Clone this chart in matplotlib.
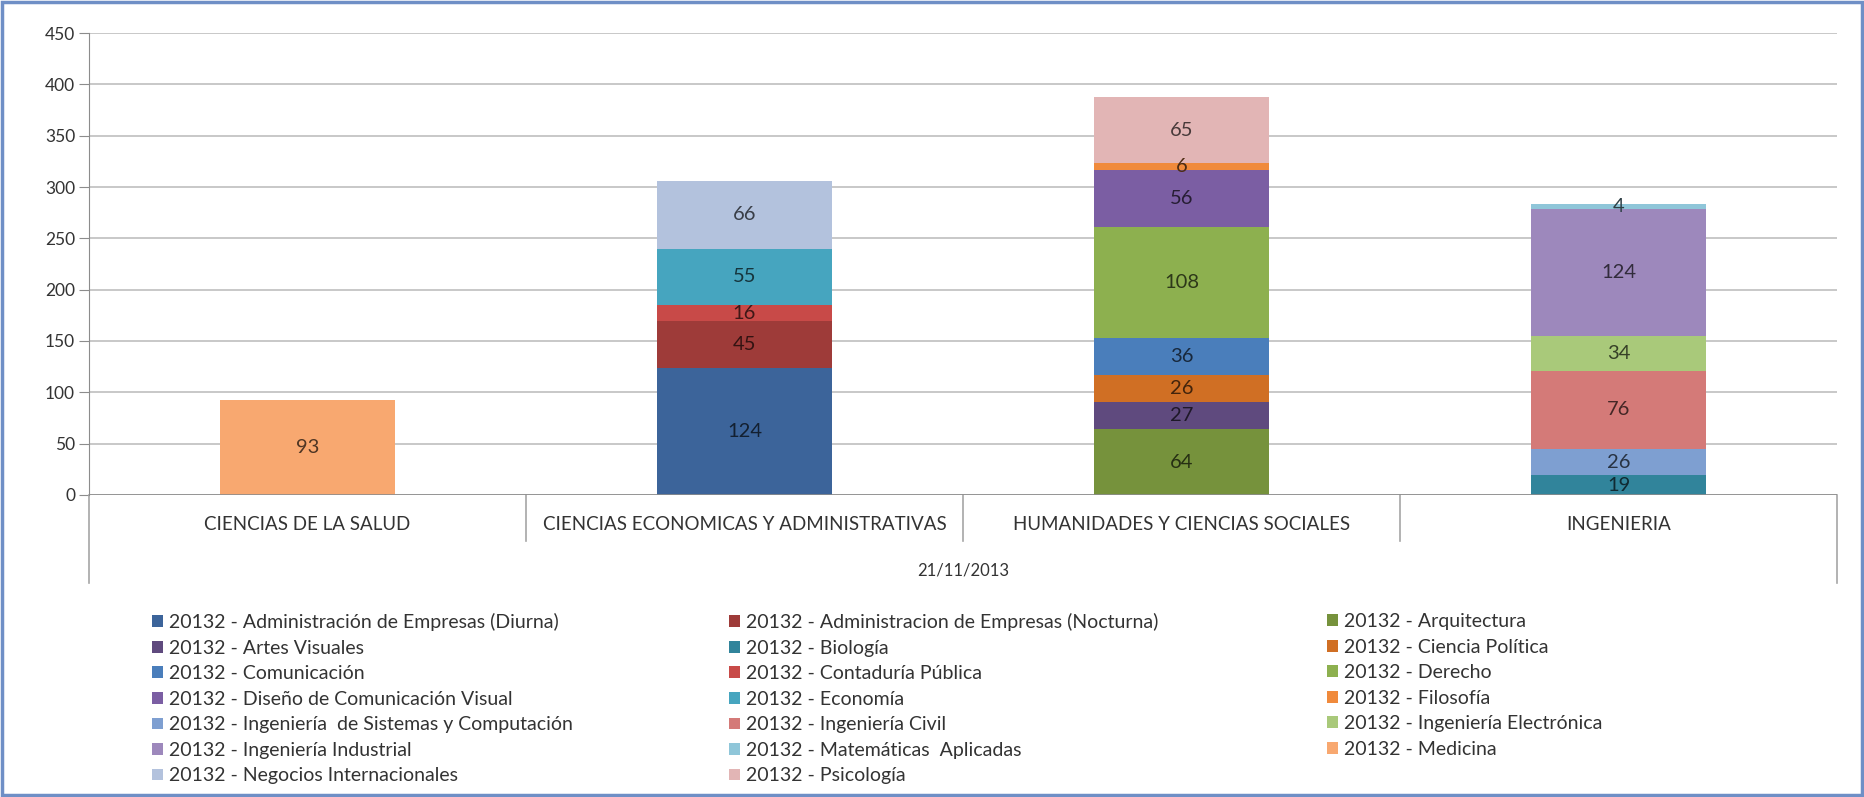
import matplotlib
matplotlib.use("Agg")
import matplotlib.pyplot as plt
import matplotlib.colors as mcolors
from matplotlib.patches import Rectangle, Patch
from matplotlib.lines import Line2D
import numpy as np

plt.rcParams['font.family'] = ['Lato', 'DejaVu Sans']

categories = ["CIENCIAS DE LA SALUD", "CIENCIAS ECONOMICAS Y ADMINISTRATIVAS",
              "HUMANIDADES Y CIENCIAS SOCIALES", "INGENIERIA"]
date_label = "21/11/2013"

series_names = [
    "20132 - Administración de Empresas (Diurna)",
    "20132 - Administracion de Empresas (Nocturna)",
    "20132 - Arquitectura",
    "20132 - Artes Visuales",
    "20132 - Biología",
    "20132 - Ciencia Política",
    "20132 - Comunicación",
    "20132 - Contaduría Pública",
    "20132 - Derecho",
    "20132 - Diseño de Comunicación Visual",
    "20132 - Economía",
    "20132 - Filosofía",
    "20132 - Ingeniería  de Sistemas y Computación",
    "20132 - Ingeniería Civil",
    "20132 - Ingeniería Electrónica",
    "20132 - Ingeniería Industrial",
    "20132 - Matemáticas  Aplicadas",
    "20132 - Medicina",
    "20132 - Negocios Internacionales",
    "20132 - Psicología",
]

# values per category: [Salud, Economicas, Humanidades, Ingenieria]
admin_diurna    = [0, 124, 0, 0]
admin_nocturna  = [0, 45, 0, 0]
arquitectura    = [0, 0, 64, 0]
artes_visuales  = [0, 0, 27, 0]
biologia        = [0, 0, 0, 19]
ciencia_politica = [0, 0, 26, 0]
comunicacion    = [0, 0, 36, 0]
contaduria      = [0, 16, 0, 0]
derecho         = [0, 0, 108, 0]
diseno          = [0, 0, 56, 0]
economia        = [0, 55, 0, 0]
filosofia       = [0, 0, 6, 0]
ing_sistemas    = [0, 0, 0, 26]
ing_civil       = [0, 0, 0, 76]
ing_electronica = [0, 0, 0, 34]
ing_industrial  = [0, 0, 0, 124]
matematicas     = [0, 0, 0, 4]
medicina        = [93, 0, 0, 0]
negocios        = [0, 66, 0, 0]
psicologia      = [0, 0, 65, 0]

series_values = [admin_diurna, admin_nocturna, arquitectura, artes_visuales, biologia,
                 ciencia_politica, comunicacion, contaduria, derecho, diseno, economia,
                 filosofia, ing_sistemas, ing_civil, ing_electronica, ing_industrial,
                 matematicas, medicina, negocios, psicologia]

colors = ['#3C649A', '#9E3B39', '#76923C', '#5F4A7E', '#31849B', '#D06F24',
          '#4A7EBB', '#C84A48', '#8DB04F', '#7B5EA3', '#46A5BF', '#F08A3C',
          '#7E9FD1', '#D47A78', '#A9C97A', '#9D88BC', '#8FC6D9', '#F8A870',
          '#B3C2DD', '#E2B5B5']

W, H = 1864, 797
fig = plt.figure(figsize=(W / 100, H / 100), dpi=100)
fig.patch.set_facecolor('white')

left, right, top, bottom = 89, 1837, 33, 495
ax = fig.add_axes([left / W, 1 - bottom / H, (right - left) / W, (bottom - top) / H])

x = np.arange(len(categories))
base = np.zeros(len(categories))
for name, vals, col in zip(series_names, series_values, colors):
    vals = np.array(vals, dtype=float)
    cont = ax.bar(x, vals, 0.4, bottom=base, color=col, label=name, zorder=3)
    rgb = np.array(mcolors.to_rgb(col))
    lab_col = tuple(rgb * 0.32)
    labels = [str(int(v)) if v > 0 else '' for v in vals]
    ax.bar_label(cont, labels=labels, label_type='center', color=lab_col,
                 fontsize=14.5, zorder=4)
    base += vals

ax.set_xlim(-0.5, len(categories) - 0.5)
ax.set_ylim(0, 450)
ax.set_yticks(np.arange(0, 451, 50))
ax.yaxis.grid(True, color='#BFBFBF', linewidth=1.2, zorder=0)
ax.set_axisbelow(True)
for s in ['top', 'right', 'bottom']:
    ax.spines[s].set_visible(False)
ax.spines['left'].set_color('#8C8C8C')
ax.axhline(0, color='#8C8C8C', linewidth=1.2, zorder=5)
ax.tick_params(axis='y', direction='out', length=7, color='#8C8C8C',
               labelsize=12.5, labelcolor='#333333', pad=3)
ax.set_xticks([])

# category labels and multi-level separators
trans = ax.get_xaxis_transform()
sep_low = -(541 - 495) / (bottom - top)
outer_low = -(583 - 495) / (bottom - top)
for xb in [0.5, 1.5, 2.5]:
    ax.add_line(Line2D([xb, xb], [0, sep_low], transform=trans, color='#A6A6A6',
                       linewidth=1.2, clip_on=False))
for xb in [-0.5, len(categories) - 0.5]:
    ax.add_line(Line2D([xb, xb], [0, outer_low], transform=trans, color='#A6A6A6',
                       linewidth=1.2, clip_on=False))
cat_y = -(524 - 495) / (bottom - top)
for xi, c in zip(x, categories):
    ax.text(xi, cat_y, c, transform=trans, ha='center', va='center',
            fontsize=13.5, color='#333333')
date_y = -(571 - 495) / (bottom - top)
ax.text(np.mean(x), date_y, date_label, transform=trans, ha='center', va='center',
        fontsize=12, color='#333333')

# legend: three columns, row-major order
handles = [Patch(facecolor=c, edgecolor='none') for c in colors]
col_x = [152, 729, 1327]
for ci in range(3):
    idx = list(range(ci, len(series_names), 3))
    leg = fig.legend([handles[i] for i in idx], [series_names[i] for i in idx],
                     loc='upper left', bbox_to_anchor=(col_x[ci] / W, 1 - 613 / H),
                     frameon=False, fontsize=14, handlelength=0.55, handleheight=0.55,
                     handletextpad=0.3, labelspacing=0.44, borderaxespad=0,
                     borderpad=0)
    for t in leg.get_texts():
        t.set_color('#333333')

# outer chart border
fig.add_artist(Rectangle((2 / W, 2 / H), 1 - 4 / W, 1 - 4 / H, transform=fig.transFigure,
                         fill=False, edgecolor='#6F8FC6', linewidth=2.5))

fig.savefig('out.png', dpi=100, facecolor='white')
